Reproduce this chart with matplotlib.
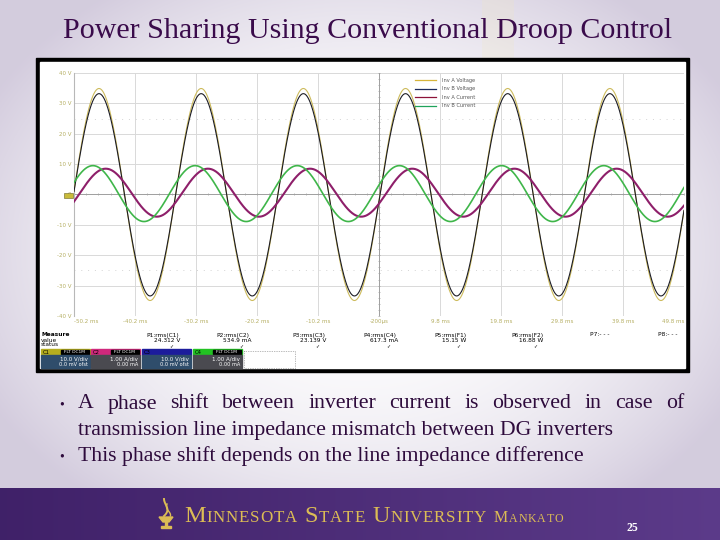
import numpy as np
import matplotlib.pyplot as plt
from matplotlib.patches import Rectangle, Polygon
from matplotlib.lines import Line2D

# scope traces: amplitude, dc offset and time of one peak (ms)
channels = ['Inv A Voltage', 'Inv B Voltage', 'Inv A Current', 'Inv B Current']
amplitudes = [34.9, 33.3, 7.9, 9.2]
offsets = [0.0, -0.1, 0.6, 0.3]
peak_times = [-46.1, -46.1, -45.0, -47.1]
period_ms = 16.75
trace_colors = ['#cdbb5c', '#1c1c24', '#8e1f6a', '#3fb64a']
trace_widths = [0.8, 0.8, 1.5, 1.2]
legend_colors = ['#d6b43a', '#1b2a5c', '#8c1238', '#1fa35a']

time_ticks = [-50.2, -40.2, -30.2, -20.2, -10.2, -0.2, 9.8, 19.8, 29.8, 39.8, 49.8]
time_labels = ['-50.2 ms', '-40.2 ms', '-30.2 ms', '-20.2 ms', '-10.2 ms', '-200µs',
               '9.8 ms', '19.8 ms', '29.8 ms', '39.8 ms', '49.8 ms']
volt_ticks = [40, 30, 20, 10, 0, -10, -20, -30, -40]
volt_labels = ['40 V', '30 V', '20 V', '10 V', '0', '-10 V', '-20 V', '-30 V', '-40 V']

meas_names = ['P1:rms(C1)', 'P2:rms(C2)', 'P3:rms(C3)', 'P4:rms(C4)',
              'P5:rms(F1)', 'P6:rms(F2)', 'P7:- - -', 'P8:- - -']
meas_values = ['24.312 V', '534.9 mA', '23.139 V', '617.3 mA', '15.15 W', '16.88 W', '', '']

ch_tags = ['C1', 'C2', 'C3', 'C4']
ch_scale = ['10.0 V/div', '1.00 A/div', '10.0 V/div', '1.00 A/div']
ch_offset = ['0.0 mV ofst', '0.00 mA', '0.0 mV ofst', '0.00 mA']
ch_head = ['#b5ad1e', '#d0287c', '#1c1c9c', '#22c222']
ch_body = ['#2f4d6b', '#4a4a50', '#2f4d6b', '#4a4a50']

title = 'Power Sharing Using Conventional Droop Control'
bullet1 = 'A phase shift between inverter current is observed in case of'
bullet1b = 'transmission line impedance mismatch between DG inverters'
bullet2 = 'This phase shift depends on the line impedance difference'

serif = 'Liberation Serif'

fig = plt.figure(figsize=(7.2, 5.4), dpi=100)
bg = fig.add_axes([0, 0, 1, 1])
bg.set_xlim(0, 720)
bg.set_ylim(540, 0)
bg.axis('off')

# slide background: white centre fading to lavender at the edges
yy, xx = np.mgrid[0:540, 0:720]
r = np.sqrt(((xx - 360) / 420.0) ** 2 + ((yy - 250) / 320.0) ** 2)
k = np.clip(r, 0, 1)[..., None] ** 2.2
edge = np.array([0.83, 0.80, 0.87])
img = (1 - k) * 1.0 + k * edge
bg.imshow(img, extent=(0, 720, 540, 0), aspect='auto', zorder=0)
bg.add_patch(Rectangle((482, 0), 32, 58, color='#f3e9b8', alpha=0.18, lw=0, zorder=1))

# purple footer band
band = np.linspace(0, 1, 720)[None, :, None]
left_c = np.array([0.25, 0.13, 0.41])
right_c = np.array([0.36, 0.23, 0.54])
footer = (1 - band) * left_c + band * right_c
bg.imshow(np.repeat(footer, 52, axis=0), extent=(0, 720, 540, 488), aspect='auto', zorder=1)

bg.text(368, 31, title, ha='center', va='center', fontsize=21.6, family=serif,
        color='#3a0b4b', zorder=3)

# scope screenshot frame
bg.add_patch(Rectangle((36, 58), 653, 314, color='black', zorder=2))
bg.add_patch(Rectangle((40, 62), 645, 306, color='white', zorder=2))

fig.canvas.draw()
rend = fig.canvas.get_renderer()


def width_of(t):
    return t.get_window_extent(renderer=rend).width


# bullets, first line justified
txt_kw = dict(fontsize=15.7, family=serif, color='#2e0b3c', va='center', zorder=3)
words = bullet1.split()
objs = [bg.text(0, 404, w, ha='left', **txt_kw) for w in words]
widths = [width_of(o) for o in objs]
gap = (684 - 78 - sum(widths)) / (len(words) - 1)
x = 78
for o, w in zip(objs, widths):
    o.set_x(x)
    x += w + gap
bg.text(78, 430, bullet1b, ha='left', **txt_kw)
bg.text(78, 456, bullet2, ha='left', **txt_kw)
for y in [405, 457]:
    bg.text(62, y, '•', ha='center', **dict(txt_kw, fontsize=10))

# university wordmark in small caps, letter by letter with a little tracking
gold = '#dcbc55'
pieces = [('M', 17.5, 0), ('INNESOTA', 12.2, 7), ('S', 17.5, 0), ('TATE', 12.2, 7),
          ('U', 17.5, 0), ('NIVERSITY', 12.2, 7), ('M', 11.5, 0), ('ANKATO', 8.6, 0)]
track = 0.8
letters = []
for word, size, g in pieces:
    for i, ch in enumerate(word):
        o = bg.text(0, 522, ch, fontsize=size, family=serif, color=gold, va='baseline',
                    ha='left', zorder=3)
        letters.append((o, width_of(o), g if i == len(word) - 1 else 0))
total = sum(w + track + g for _, w, g in letters)
x = 374 - total / 2
for o, w, g in letters:
    o.set_x(x)
    x += w + track + g

# torch logo
tx = 166
bg.add_patch(Polygon([(tx - 7, 517), (tx + 7, 517), (tx + 3, 522), (tx - 3, 522)],
                     color=gold, zorder=3))
bg.add_patch(Rectangle((tx - 1, 522), 2, 4, color=gold, zorder=3))
bg.add_patch(Rectangle((tx - 5, 526), 10, 1.6, color=gold, zorder=3))
fl = np.linspace(0, 1, 30)
bg.plot(tx - 2 + 6 * np.sin(fl * 3.0) * (1 - fl), 516 - 17 * fl, color=gold, lw=1.4, zorder=3)
bg.plot(tx + 1 + 4 * np.sin(fl * 3.5 + 1) * (1 - fl), 516 - 12 * fl, color=gold, lw=1.0, zorder=3)
bg.text(632, 528, '25', ha='center', va='center', fontsize=8.5, family=serif,
        color='white', weight='bold', zorder=3)

# measurement table under the grid
small = dict(fontsize=4.2, color='black', zorder=3)
bg.text(41, 335, 'Measure', va='center', weight='bold', **small)
bg.text(41, 340, 'value', va='center', **small)
bg.text(41, 345, 'status', va='center', **small)
meas_x = [163, 233, 309, 380, 450, 527, 600, 668]
for mx, name, val in zip(meas_x, meas_names, meas_values):
    bg.text(mx, 335, name, ha='center', va='center', **small)
    if val:
        bg.text(mx + 4, 340, val, ha='center', va='center', **small)
        bg.text(mx + 8, 346, '✓', ha='center', va='center', fontsize=3.5, zorder=3)

box_x = [41, 91, 142, 193]
for bx, tag, sc, of, hc, bc in zip(box_x, ch_tags, ch_scale, ch_offset, ch_head, ch_body):
    bg.add_patch(Rectangle((bx, 349), 49, 6, color=hc, zorder=3))
    bg.add_patch(Rectangle((bx + 20, 349.8), 28, 4.4, color='black' if tag != 'C3' else hc, zorder=3))
    bg.add_patch(Rectangle((bx, 355), 49, 13, color=bc, zorder=3))
    bg.text(bx + 2, 352, tag, va='center', fontsize=3.8, color='black', zorder=4)
    if tag != 'C3':
        bg.text(bx + 34, 352, 'FLT DC1M', ha='center', va='center', fontsize=3.2,
                color='white', zorder=4)
    bg.text(bx + 47, 359, sc, ha='right', va='center', fontsize=4, color='white', zorder=4)
    bg.text(bx + 47, 365, of, ha='right', va='center', fontsize=3.6, color='white', zorder=4)
bg.add_patch(Rectangle((243.5, 351), 51, 17, fill=False, ec='#777777', lw=0.5,
                       ls=(0, (1, 1.5)), zorder=3))

# the scope grid and traces
ax = fig.add_axes([74 / 720, 1 - 316 / 540, 610 / 720, 243 / 540])
ax.set_facecolor('none')
ax.set_xlim(time_ticks[0], time_ticks[-1])
ax.set_ylim(volt_ticks[-1], volt_ticks[0])
for s in ['top', 'right', 'bottom']:
    ax.spines[s].set_visible(False)
ax.spines['left'].set_color('#b8b8b8')
ax.spines['left'].set_linewidth(0.8)
ax.set_xticks(time_ticks)
ax.set_xticklabels(time_labels)
ax.set_yticks(volt_ticks)
ax.set_yticklabels(volt_labels)
ax.tick_params(length=0, labelsize=4, labelcolor='#b5ae62', pad=2)
labs = ax.get_xticklabels()
labs[0].set_ha('left')
labs[-1].set_ha('right')
ax.grid(True, color='#d9d9d9', lw=0.7)
ax.set_axisbelow(True)
ax.axhline(0, color='#a0a0a0', lw=0.7, zorder=1)
ax.axvline(-0.2, color='#a0a0a0', lw=0.7, zorder=1)
for lv in [25, -25]:
    ax.axhline(lv, color='#d4d4d4', lw=0.7, ls=(0, (1, 6)), zorder=1)
minor_t = np.arange(-50.2, 49.9, 2.0)
ax.plot(minor_t, np.zeros_like(minor_t), ls='none', marker='|', ms=2, color='#a0a0a0', mew=0.5)
minor_v = np.arange(-40, 41, 2.0)
ax.plot(np.full_like(minor_v, -0.2), minor_v, ls='none', marker='_', ms=2, color='#a0a0a0', mew=0.5)

t = np.linspace(time_ticks[0], time_ticks[-1], 3000)
for amp, off, pk, col, lw in zip(amplitudes, offsets, peak_times, trace_colors, trace_widths):
    ax.plot(t, off + amp * np.cos(2 * np.pi * (t - pk) / period_ms), color=col, lw=lw, zorder=3)

handles = [Line2D([], [], color=c, lw=0.9) for c in legend_colors]
leg = ax.legend(handles, channels, loc='upper left',
                bbox_to_anchor=((415 - 74) / 610, (316 - 78) / 243), frameon=False,
                fontsize=3.6, handlelength=4.2, labelspacing=0.7, handletextpad=1.3,
                borderaxespad=0, borderpad=0)
for tx_ in leg.get_texts():
    tx_.set_color('#555555')

# channel 1 ground marker, drawn over the zero label like on the scope
bg2 = fig.add_axes([0, 0, 1, 1], zorder=5)
bg2.set_xlim(0, 720)
bg2.set_ylim(540, 0)
bg2.axis('off')
bg2.add_patch(Rectangle((64, 193), 9, 5, color='#c9bb3a', ec='#6a6420', lw=0.4))

fig.savefig('out.png', dpi=100)
